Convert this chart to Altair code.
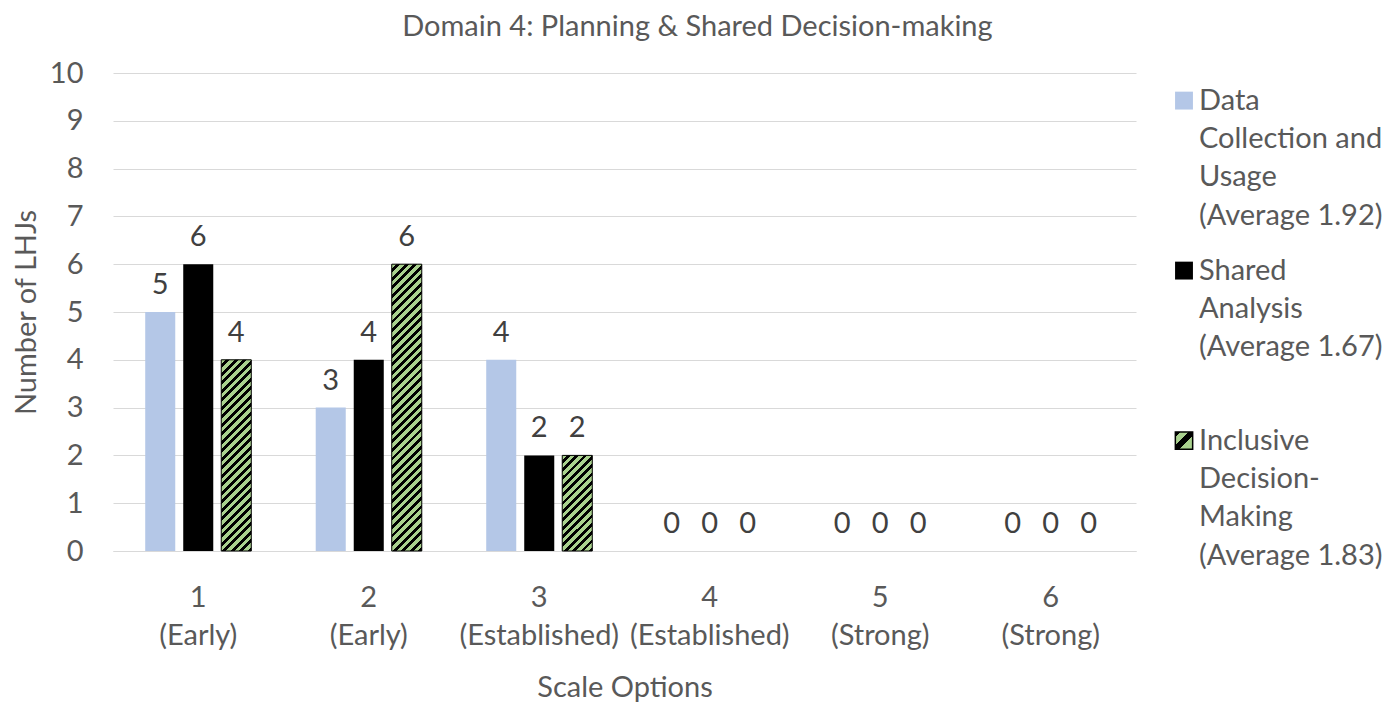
import altair as alt
import pandas as pd

# ---------------- data ----------------
categories = ["1", "2", "3", "4", "5", "6"]
stages = ["(Early)", "(Early)", "(Established)", "(Established)", "(Strong)", "(Strong)"]
series = ["Data Collection and Usage", "Shared Analysis", "Inclusive Decision-Making"]
averages = [1.92, 1.67, 1.83]
data_collection = [5, 3, 4, 0, 0, 0]
shared_analysis = [6, 4, 2, 0, 0, 0]
inclusive_decision = [4, 6, 2, 0, 0, 0]
legend_words = [["Data", "Collection and", "Usage"],
                ["Shared", "Analysis"],
                ["Inclusive", "Decision-", "Making"]]
colors = ["#B4C7E7", "#000000", "#A9D18E"]

# ---------------- styling ----------------
FONT = "Lato"
FS = 29
TXT = "#595959"
GRID = "#D9D9D9"
W, H = 1023, 478
YMAX = 10
GREEN = colors[2]

cat_labels = [f"{c}\n{s}" for c, s in zip(categories, stages)]
values = [data_collection, shared_analysis, inclusive_decision]

rows = []
for si, s in enumerate(series):
    for ci, lab in enumerate(cat_labels):
        rows.append({"cat": lab, "series": s, "value": values[si][ci]})
df = pd.DataFrame(rows)


def stripes(w, h, period=8.5, frac=0.45, c1=GREEN, c2="#000000"):
    """Diagonal (/) hatch as a hard-stop linear gradient in bounding-box units."""
    n = max(1, round((w + h) / period))
    k = (w + h) / (w * w + h * h)
    stops = []
    for i in range(n):
        a = i / n
        b = (i + 1 - frac) / n
        c = (i + 1) / n
        stops += [{"offset": a, "color": c1}, {"offset": b, "color": c1},
                  {"offset": b, "color": c2}, {"offset": c, "color": c2}]
    return {"gradient": "linear", "x1": 0, "y1": 0, "x2": k * w, "y2": k * h, "stops": stops}


def symbol_hatch(c1=GREEN, c2="#000000"):
    cuts = [(0.0, 0.16, c2), (0.16, 0.38, c1), (0.38, 0.62, c2), (0.62, 1.0, c1)]
    stops = []
    for a, b, c in cuts:
        stops += [{"offset": a, "color": c}, {"offset": b, "color": c}]
    return {"gradient": "linear", "x1": 0, "y1": 0, "x2": 1, "y2": 1, "stops": stops}


x_enc = alt.X(
    "cat:N", sort=cat_labels,
    scale=alt.Scale(paddingInner=0.378, paddingOuter=0.189),
    axis=alt.Axis(title="Scale Options", labelExpr="split(datum.label, '\\n')",
                  labelAngle=0, labelFontSize=FS, labelColor=TXT, labelFont=FONT,
                  labelLineHeight=38, labelPadding=32, labelBaseline="top",
                  ticks=False, domainColor=GRID, domainWidth=1,
                  titleFontSize=FS, titleColor=TXT, titleFont=FONT,
                  titleFontWeight="normal", titlePadding=23),
)
xoff_enc = alt.XOffset("series:N", sort=series,
                       scale=alt.Scale(domain=series, paddingInner=0.21, paddingOuter=0))
y_enc = alt.Y(
    "value:Q", scale=alt.Scale(domain=[0, YMAX]),
    axis=alt.Axis(title="Number of LHJs", values=list(range(YMAX + 1)), grid=True,
                  gridColor=GRID, gridWidth=1, domain=False, ticks=False,
                  labelFontSize=FS, labelColor=TXT, labelFont=FONT, labelPadding=30,
                  titleFontSize=FS, titleColor=TXT, titleFont=FONT,
                  titleFontWeight="normal", titlePadding=8),
)

base = alt.Chart(df).encode(x=x_enc, xOffset=xoff_enc, y=y_enc)

bars = base.mark_bar().encode(
    color=alt.Color("series:N", scale=alt.Scale(domain=series, range=colors), legend=None)
)

layers = [bars]
# hatched overlay for the inclusive decision-making bars
bar_w = 30
for ci, lab in enumerate(cat_labels):
    v = inclusive_decision[ci]
    if v > 0:
        h_px = v * H / YMAX
        layers.append(
            base.mark_bar(fill=stripes(bar_w, h_px), stroke="#000000", strokeWidth=1)
            .transform_filter((alt.datum.series == series[2]) & (alt.datum.cat == lab))
        )

labels = base.mark_text(dy=-18, baseline="alphabetic", fontSize=FS, color="#404040",
                        font=FONT).encode(text="value:Q")
layers.append(labels)

main = alt.layer(*layers).properties(width=W, height=H)

# ---------------- legend panel ----------------
LINE = 38.33
SLOT = 4.435
FIRST = 0.72
leg_rows = []
sym_rows = []
for i, (s, words) in enumerate(zip(series, legend_words)):
    lines = words + [f"(Average {averages[i]:.2f})"]
    start = FIRST + i * SLOT
    sym_rows.append({"series": s, "pos": start})
    for j, t in enumerate(lines):
        leg_rows.append({"series": s, "text": t, "pos": start + j})
leg_df = pd.DataFrame(leg_rows)
sym_df = pd.DataFrame(sym_rows)

LW = 226
ysc = alt.Scale(domain=[0, H / LINE], reverse=True)
leg_text = alt.Chart(leg_df).mark_text(align="left", baseline="middle", fontSize=FS,
                                       color=TXT, font=FONT).encode(
    x=alt.value(43), y=alt.Y("pos:Q", scale=ysc, axis=None), text="text:N")
leg_sym = alt.Chart(sym_df).transform_filter(alt.datum.series != series[2]).mark_square(
    size=320, opacity=1, filled=True).encode(
    x=alt.value(28), y=alt.Y("pos:Q", scale=ysc, axis=None),
    color=alt.Color("series:N", scale=alt.Scale(domain=series, range=colors), legend=None))
leg_sym_g = alt.Chart(sym_df).transform_filter(alt.datum.series == series[2]).mark_square(
    size=300, opacity=1, fill=symbol_hatch(), stroke="#000000", strokeWidth=1.5).encode(
    x=alt.value(28), y=alt.Y("pos:Q", scale=ysc, axis=None))
legend = alt.layer(leg_sym, leg_sym_g, leg_text).properties(width=LW, height=H)

chart = alt.hconcat(main, legend, spacing=20).resolve_scale(
    y="independent", color="independent").properties(
    title=alt.TitleParams("Domain 4: Planning & Shared Decision-making", fontSize=FS,
                          fontWeight="normal", color=TXT, font=FONT, anchor="middle",
                          offset=17),
    padding={"left": 4, "top": 5, "right": 0, "bottom": 0},
).configure(font=FONT, view=alt.ViewConfig(stroke="transparent", strokeWidth=0))

chart.save("out.html", embed_options={"renderer": "svg", "actions": False})
